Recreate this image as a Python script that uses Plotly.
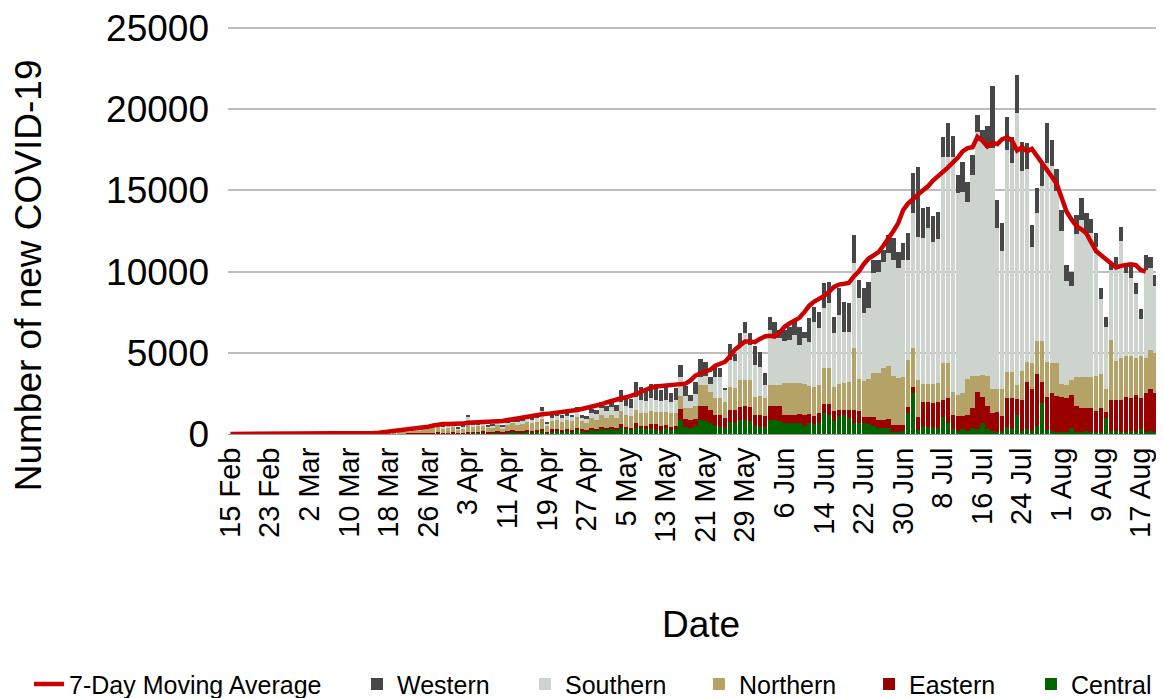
import plotly.graph_objects as go
import pandas as pd

start_date = "2020-02-15"

central = [0,0,0,0,0,0,0,0,0,0, 0,0,0,0,0,0,0,0,0,0,
           0,0,1,1,1,2,2,3,4,5, 6,8,10,12,14,18,20,25,30,35,
           40,50,60,45,55,60,40,45,60,70, 80,100,60,70,90,60,100,150,90,110,
           180,120,150,200,80,180,220,150,230,170, 250,200,150,250,200,300,250,300,230,400,
           300,250,400,350,300,300,250,200,350,250, 300,860,450,400,500,850,800,700,500,450,
           400,750,700,850,850,800,500,450,450,850, 850,800,650,650,650,650,500,650,600,700,
           1270,1200,800,1100,1170,1000,650,700,650,600, 500,350,350,400,150,150,200,1270,2500,250,
           450,450,400,350,1070,700,300,200,300,200, 400,300,650,300,200,150,200,450,300,1170,
           200,300,200,500,1900,250,200,150,100,100, 400,100,100,200,100,100,100,960,200,200,
           100,100,200,100,300,100,200,100,100]
eastern = [0,0,0,0,0,0,0,0,0,1, 0,0,0,0,0,0,0,0,0,1,
           0,1,1,1,2,2,3,3,4,4, 5,6,8,10,10,12,14,15,18,20,
           25,30,40,30,35,40,25,30,40,40, 50,60,40,60,70,40,80,120,70,80,
           90,80,90,120,60,100,110,90,100,80, 150,90,80,120,110,150,120,150,130,200,
           150,150,250,150,200,300,350,300,200,200, 200,700,450,450,450,850,900,800,650,700,
           600,700,750,800,850,850,700,700,650,850, 850,900,500,500,500,600,700,600,500,600,
           580,650,600,400,300,500,830,700,420,470, 570,500,510,500,400,400,350,410,400,800,
           1500,1550,1500,1600,1000,1500,900,900,800,1000, 1200,2300,1600,1400,1100,1200,900,1750,1900,1000,
           1900,2900,2600,3200,1300,2000,2300,2200,2200,2100, 2000,1600,1500,1400,1500,1300,1500,420,1900,1900,
           2000,2200,2000,2300,1900,2400,2600,2400,2300]
northern = [0,0,0,0,0,0,0,1,0,0, 0,1,0,0,1,1,1,1,2,2,
            3,4,5,8,11,14,19,25,33,41, 52,65,80,95,115,130,150,170,190,220,
            250,290,330,270,310,330,220,260,600,330, 340,330,280,290,400,260,400,380,420,440,
            450,470,520,620,380,500,520,520,530,520, 620,480,470,600,560,700,620,720,620,800,
            750,700,800,800,800,800,750,850,800,850, 800,800,700,750,800,1300,1300,1100,1050,1050,
            950,1450,1400,1650,1650,1700,1100,1200,1100,1300, 1300,1300,2000,2000,2000,1870,1900,1700,1800,1700,
            2190,2200,1500,1600,1650,1700,3800,2000,2200,2300, 2700,2900,3200,3300,3000,2900,2950,2880,2380,2300,
            1100,1100,1200,1200,2300,2200,1400,1300,1400,2200, 2000,1000,1400,1900,1500,1400,1700,1600,1600,850,
            1800,1250,1600,2000,2500,2200,1900,2000,800,800, 900,1800,1900,1900,1900,2200,2100,1400,3700,2400,
            2600,2500,2600,2300,2600,2200,2400,2500,2700]
southern = [0,0,0,0,0,0,0,0,0,0, 0,0,0,0,0,1,0,1,1,1,
            1,1,2,3,4,5,7,9,12,15, 19,24,30,36,42,48,56,65,72,85,
            95,110,140,105,120,130,80,100,350,130, 140,140,110,110,150,110,150,140,160,180,
            190,180,220,450,140,220,240,250,250,250, 380,220,230,330,350,450,400,500,450,600,
            500,500,800,800,750,800,750,700,750,700, 800,1170,750,450,700,500,600,500,1300,1300,
            750,1650,1650,2250,2850,2100,1950,1750,800,3400, 3150,2900,2550,2650,2950,2360,2800,2730,4020,3500,
            3700,4000,3300,4230,3180,3100,5230,4950,4160,4370, 6130,6250,6550,6930,7170,6750,7210,6160,8310,8800,
            9000,9600,8700,8850,12710,12680,14480,12420,12420,10910, 12350,15020,14450,13990,14800,9960,8470,13700,12910,16730,
            12300,11890,7100,7930,9570,12220,12100,10600,9400,6400, 5800,8800,9700,8900,8900,7900,4600,3820,4300,5700,
            7200,5100,4800,3900,2300,5400,5000,4100,4850]
western = [0,0,0,0,0,0,0,0,0,0, 0,0,0,0,0,0,0,0,0,0,
           1,1,1,1,2,2,4,5,7,10, 13,17,22,27,29,32,40,45,50,60,
           70,80,130,70,80,90,55,65,150,80, 90,90,70,70,110,80,120,110,130,140,
           140,130,170,290,100,150,160,170,160,180, 280,160,170,250,260,350,310,430,370,700,
           550,550,950,800,650,900,950,650,800,500, 750,720,600,350,750,1100,850,400,650,550,
           150,1000,450,650,700,750,1150,950,750,800, 750,500,700,800,900,1130,400,1440,920,1030,
           1540,1330,1030,1640,1850,1790,1750,1130,1540,1640, 820,720,720,1130,1330,1030,1030,1640,2460,4280,
           1850,1300,1590,1690,1230,2050,1270,1130,1850,1230, 1230,1030,620,1380,3830,1700,1700,2000,1600,2360,
           1800,1600,1370,1500,1500,2460,1600,1350,1300,1010, 900,1190,1310,1230,820,860,670,630,510,720,
           830,610,810,680,580,920,720,690,730]

moving_average = [0,0,0,0,0,0,0,0,0,0, 0,0,0,0,0,0,0,0,0,0,
                  3,5,7,10,15,20,27,35,45,60, 80,110,140,175,210,250,285,320,350,390,
                  450,520,580,610,620,620,630,640,690,700, 700,710,720,740,770,800,860,920,980,1040,
                  1100,1140,1180,1220,1240,1270,1300,1330,1380,1430, 1480,1540,1600,1660,1730,1830,1940,2050,2150,2200,
                  2260,2320,2450,2600,2750,2850,2920,2950,2980,3040, 3080,3090,3100,3300,3600,3740,3820,3950,4200,4300,
                  4450,4800,5200,5450,5700,5700,5650,5850,6000,6050, 6000,6250,6600,6800,7000,7150,7500,7900,8150,8300,
                  8500,8750,9050,9200,9230,9300,9700,10000,10450,10800, 11000,11200,11600,12000,12500,13000,13800,14200,14500,14750,
                  15000,15250,15600,15850,16100,16400,16700,17000,17400,17600, 17650,18300,18050,17700,17900,17850,18150,18250,18050,17450,
                  17650,17400,17550,17150,16700,16350,15850,15400,14500,13700, 13200,12800,12600,12350,11800,11250,11000,10750,10450,10250,
                  10350,10400,10450,10400,10100,10000]

y_ticks = [0, 5000, 10000, 15000, 20000, 25000]

dates = pd.date_range(start_date, periods=len(central), freq="D")

font_family = "Liberation Sans, Arial, sans-serif"
legend_y = -0.6086   # plot area is 411 px tall, legend centre ~251 px below it

# (name, values, colour, legend id, legend x in paper units)
bar_series = [
    ("Central", central, "#006400", "legend6", 0.8588),
    ("Eastern", eastern, "#990000", "legend5", 0.6856),
    ("Northern", northern, "#b5a267", "legend4", 0.5037),
    ("Southern", southern, "#cdd3cd", "legend3", 0.3176),
    ("Western", western, "#474747", "legend2", 0.1380),
]

fig = go.Figure()
legend_layout = {}
for name, vals, color, leg, lx in bar_series:
    fig.add_trace(go.Bar(x=dates, y=vals, name=name, marker_color=color,
                         marker_line_width=0, legend=leg))
    legend_layout[leg] = dict(orientation="h", x=lx, xanchor="left", y=legend_y, yanchor="middle",
                              font=dict(size=25, family=font_family, color="#000000"),
                              bgcolor="rgba(0,0,0,0)")

fig.add_trace(go.Scatter(x=dates[:len(moving_average)], y=moving_average, mode="lines",
                         name="7-Day Moving Average",
                         line=dict(color="#cc0000", width=4.5), legend="legend"))
legend_layout["legend"] = dict(orientation="h", x=-0.2128, xanchor="left", y=legend_y, yanchor="middle",
                               font=dict(size=25, family=font_family, color="#000000"),
                               bgcolor="rgba(0,0,0,0)")

fig.update_layout(
    width=1164, height=698,
    barmode="stack", bargap=0.12,
    plot_bgcolor="white", paper_bgcolor="white",
    margin=dict(l=220, r=9, t=15, b=272, autoexpand=False),
    font=dict(family=font_family, color="#000000"),
    showlegend=True,
    xaxis=dict(
        type="date",
        range=[dates[0] - pd.Timedelta(hours=12), dates[-1] + pd.Timedelta(hours=12)],
        tick0=start_date, dtick=8 * 86400000, tickformat="%-d %b",
        tickangle=-90, tickfont=dict(size=29), ticklabelstandoff=1,
        ticklabeloverflow="allow",
        showgrid=False, showline=True, linecolor="#9a9a9a", linewidth=1,
        ticks="", automargin=False,
    ),
    yaxis=dict(
        range=[0, 25300], tickvals=y_ticks, tickformat="d",
        tickfont=dict(size=37), ticklabelstandoff=18,
        ticklabeloverflow="allow",
        showgrid=True, gridcolor="#bdbdbd", gridwidth=2,
        zeroline=False, showline=False, ticks="", automargin=False,
    ),
    annotations=[
        dict(text="Number of new COVID-19", textangle=-90, xref="paper", yref="paper",
             x=-0.2125, y=0.3869, xanchor="center", yanchor="middle", showarrow=False,
             font=dict(size=37, family=font_family, color="#000000")),
        dict(text="Date", xref="paper", yref="paper", x=0.506, y=-0.4647,
             xanchor="center", yanchor="middle", showarrow=False,
             font=dict(size=37, family=font_family, color="#000000")),
    ],
    **legend_layout,
)

fig.write_html("out.html")
